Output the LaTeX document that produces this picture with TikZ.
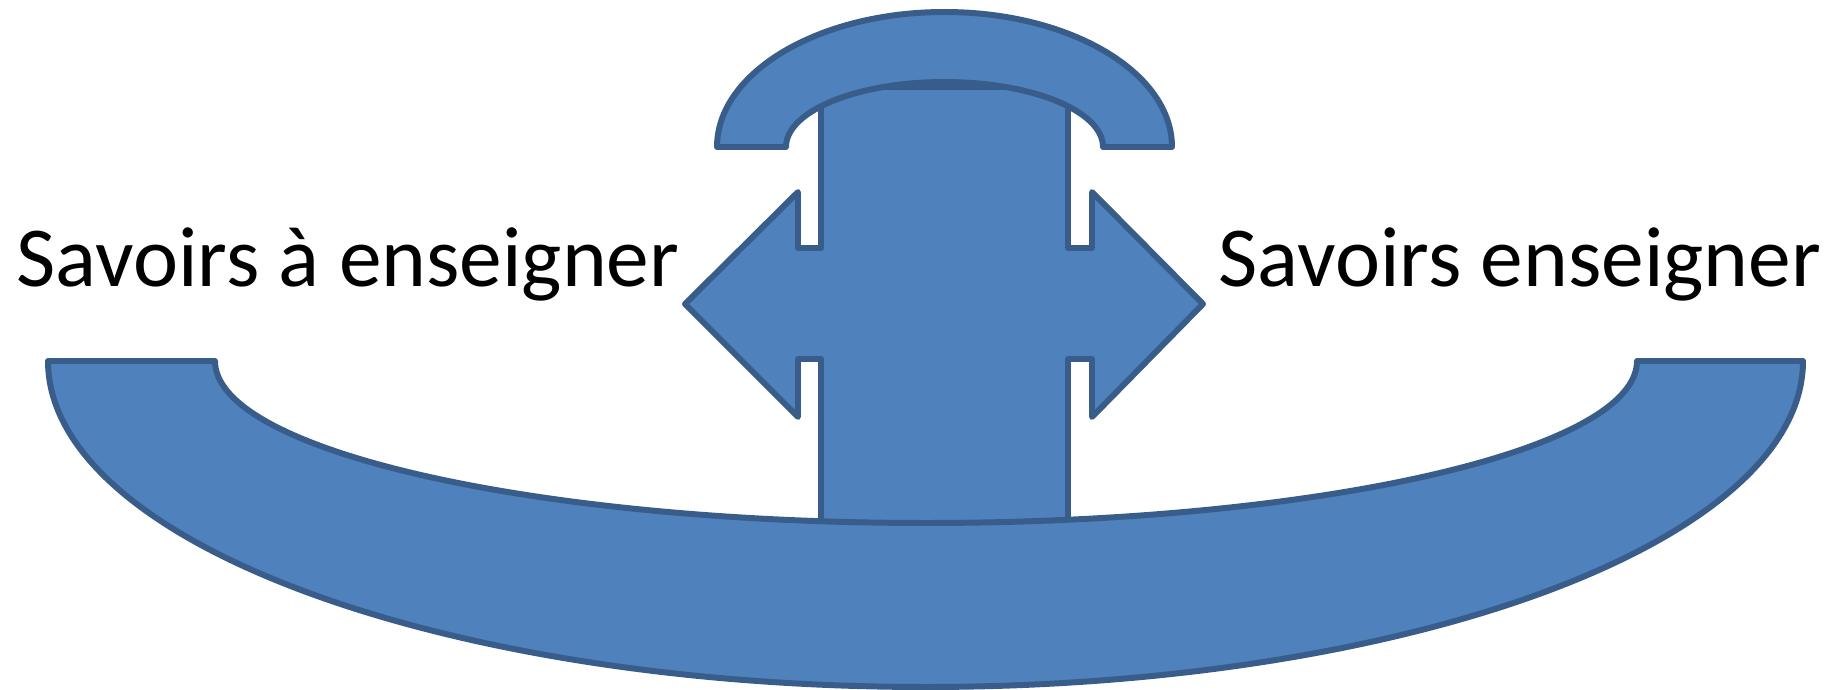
\documentclass[tikz,border=0pt]{standalone}
\usepackage{fontspec}
\setmainfont{Carlito}
\usepackage{tikz}

\definecolor{ofblue}{HTML}{4F81BD}
\definecolor{ofedge}{HTML}{385D8A}
\tikzset{
  piece/.style={fill=ofblue,draw=ofedge,line width=1.7pt,line join=round},
  savoir/.style={anchor=base west,inner sep=0pt,font=\fontsize{24.3}{28}\selectfont}
}

\begin{document}
\begin{tikzpicture}
	\useasboundingbox (0,0) rectangle (18.35,6.90);
	% tige et fleches
	\draw[piece] (8.21,6.03) -- (10.68,6.03) -- (10.68,4.42) -- (10.92,4.42) -- (10.92,4.98)
	  -- (12.03,3.86) -- (10.92,2.73) -- (10.92,3.31) -- (10.68,3.31) -- (10.68,1.66)
	  -- (8.21,1.66) -- (8.21,3.31) -- (7.98,3.31) -- (7.98,2.73) -- (6.85,3.86)
	  -- (7.98,4.98) -- (7.98,4.42) -- (8.21,4.42) -- cycle;
	% combine
	\draw[piece] (7.17,5.43) arc[start angle=180,end angle=0,x radius=2.275,y radius=1.35]
	  -- (11.03,5.43) arc[start angle=0,end angle=180,x radius=1.585,y radius=0.65] -- cycle;
	% socle
	\draw[piece] (0.48,3.29) -- (2.15,3.29) arc[start angle=180,end angle=360,x radius=7.11,y radius=1.62]
	  -- (18.03,3.29) arc[start angle=0,end angle=-180,x radius=8.775,y radius=3.26] -- cycle;
	\node[savoir] (savA) at (0.16,4.03) {Savoirs à enseigner};
	\node[savoir] (savE) at (12.18,4.03) {Savoirs enseigner};
\end{tikzpicture}
\end{document}
